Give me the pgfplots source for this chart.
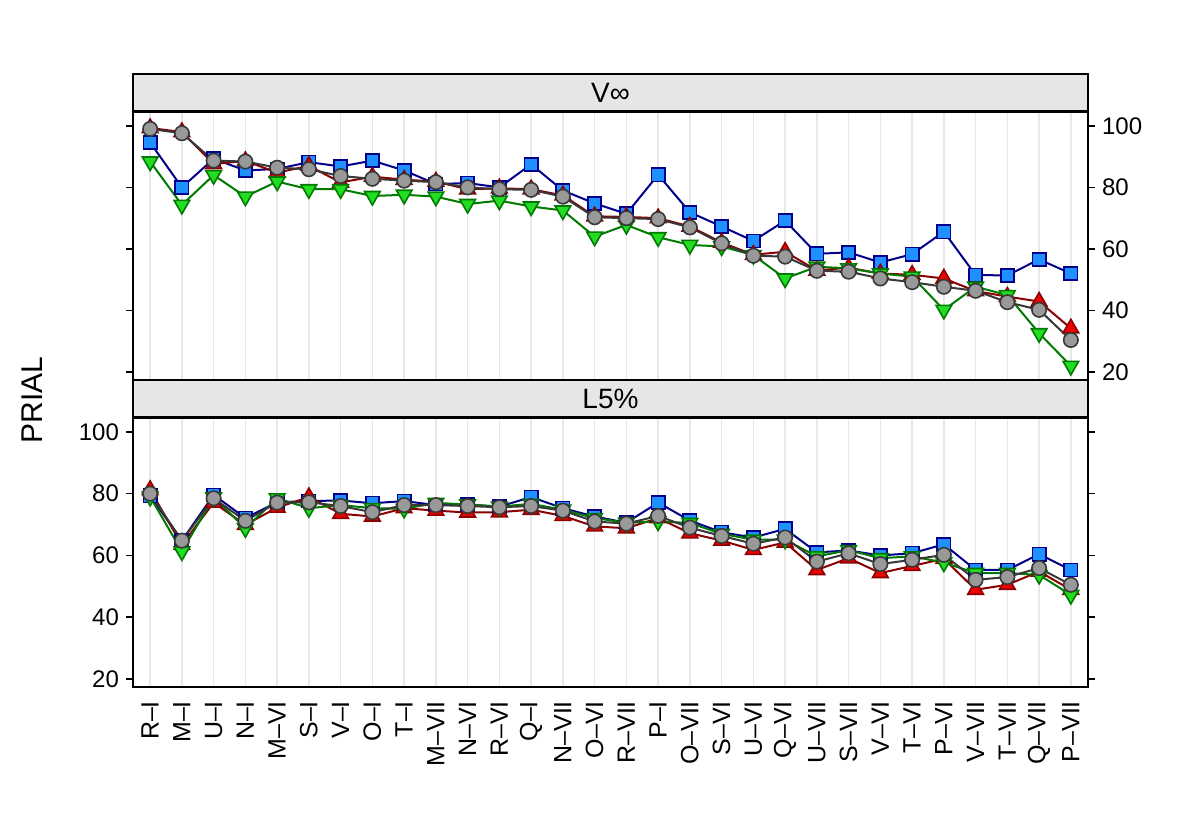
\documentclass[border=0pt]{standalone}
\usepackage{fontspec}
\setmainfont{Liberation Sans}
\usepackage{pgfplots}
\usepackage{pgfplotstable}
\pgfplotsset{compat=1.18}

\definecolor{bline}{HTML}{00008B}
\definecolor{bfill}{HTML}{1E90FF}
\definecolor{rline}{HTML}{8B0000}
\definecolor{rfill}{HTML}{EE0000}
\definecolor{gline}{HTML}{007A00}
\definecolor{gfill}{HTML}{22DD22}
\definecolor{kline}{HTML}{383838}
\definecolor{kfill}{HTML}{999999}
\definecolor{stripgray}{HTML}{E6E6E6}

\pgfplotstableread{
x b r g k
0 94.6 99.3 88.4 99.0
1 80.0 98.0 74.3 97.6
2 89.3 87.6 84.0 88.7
3 85.5 88.6 77.0 88.4
4 86.0 84.8 81.9 86.4
5 88.2 87.0 79.4 85.9
6 86.8 81.6 79.4 83.7
7 88.7 83.5 77.2 82.8
8 85.5 82.5 77.6 82.2
9 81.1 81.9 77.0 81.7
10 81.4 79.4 74.6 80.0
11 80.0 79.7 75.7 79.4
12 87.5 79.4 73.8 79.2
13 79.0 77.4 72.5 77.0
14 74.8 70.6 64.0 70.3
15 71.4 70.4 67.8 70.0
16 84.1 70.0 63.8 69.7
17 71.9 67.3 61.3 67.0
18 67.3 62.1 60.8 61.8
19 62.6 58.1 58.0 57.8
20 69.2 59.1 50.4 57.5
21 58.4 53.0 54.2 52.9
22 58.9 53.9 53.7 52.6
23 55.6 52.0 52.0 50.4
24 58.3 51.6 51.0 49.2
25 65.6 50.4 40.2 47.7
26 51.5 46.3 47.7 46.4
27 51.4 44.5 45.0 42.7
28 56.6 42.9 32.6 40.2
29 52.0 34.2 22.0 30.4
}\toptable

\pgfplotstableread{
x b r g k
0 79.3 81.2 79.0 80.0
1 64.8 63.4 61.3 64.8
2 79.6 77.1 78.8 78.5
3 72.1 69.9 68.8 71.2
4 77.2 75.5 78.5 77.1
5 77.6 78.9 75.3 77.2
6 77.8 73.5 76.3 76.0
7 76.9 72.6 75.3 74.0
8 77.6 75.3 75.1 76.3
9 76.3 74.5 77.0 76.3
10 76.5 73.9 76.5 76.0
11 75.8 74.0 75.8 75.6
12 78.9 74.8 76.7 76.0
13 75.3 72.8 74.8 74.5
14 72.6 69.4 72.1 71.0
15 70.6 68.8 70.6 70.3
16 77.1 72.1 71.0 72.8
17 71.3 67.2 70.5 69.0
18 67.5 64.8 67.0 66.3
19 65.8 61.8 65.1 63.8
20 68.6 64.2 65.1 65.8
21 61.0 55.3 59.7 58.0
22 61.6 59.1 61.7 60.7
23 60.0 54.3 59.1 57.2
24 60.7 56.6 59.7 58.6
25 63.6 58.9 57.7 60.2
26 55.3 48.9 54.3 52.1
27 55.3 50.5 54.3 53.0
28 60.4 54.8 53.7 55.9
29 55.3 48.9 47.2 50.5
}\bottable

\pgfplotsset{
  every axis title shift=0pt,
  common/.style={
    scale only axis,
    width=477.5pt,
    xmin=-0.54, xmax=29.54,
    ymin=17.4, ymax=104.5,
    ytick={20,40,60,80,100},
    xtick={0,...,29},
    xmajorgrids,
    major grid style={draw=gray!18, line width=0.8pt},
    tick align=outside,
    major tick length=3.5pt,
    axis line style={line width=0.8pt},
    x tick style={draw=none},
    y tick style={black, line width=0.8pt},
    ytick pos=both,
    tick label style={font=\fontsize{12}{14}\selectfont},
    /pgf/number format/assume math mode=true,
    title style={at={(0.5,1)}, anchor=south, draw=black, line width=0.8pt,
      fill=stripgray, minimum width=477.5pt, minimum height=18.5pt,
      inner sep=0pt, font=\fontsize{14}{16}\selectfont},
  },
  sb/.style={color=bline, line width=1pt, mark=square*, mark size=3.3pt,
    mark options={draw=bline, fill=bfill, line width=0.8pt}},
  sr/.style={color=rline, line width=1pt, mark=triangle*, mark size=4.5pt,
    mark options={draw=rline, fill=rfill, line width=0.8pt}},
  sg/.style={color=gline, line width=1pt, mark=triangle*, mark size=4.5pt,
    mark options={draw=gline, fill=gfill, line width=0.8pt, rotate=180}},
  sk/.style={color=kline, line width=1pt, mark=*, mark size=3.6pt,
    mark options={draw=kline, fill=kfill, line width=0.8pt}},
}

\begin{document}
\begin{tikzpicture}
\useasboundingbox (-66.5pt,-225.5pt) rectangle (533.5pt,190pt);
\begin{axis}[common, at={(0,0)}, anchor=south west, height=134pt,
  title={V∞}, yticklabel pos=right, ytick pos=both, xticklabels={}]
\addplot[sb] table[x=x,y=b] {\toptable};
\addplot[sr] table[x=x,y=r] {\toptable};
\addplot[sg] table[x=x,y=g] {\toptable};
\addplot[sk] table[x=x,y=k] {\toptable};
\end{axis}
\begin{axis}[common, at={(0,-19pt)}, anchor=north west, height=134.5pt,
  title={L5\%}, yticklabel pos=left, ytick pos=both,
  xticklabels={R–I,M–I,U–I,N–I,M–VI,S–I,V–I,O–I,T–I,M–VII,N–VI,R–VI,Q–I,N–VII,O–VI,R–VII,P–I,O–VII,S–VI,U–VI,Q–VI,U–VII,S–VII,V–VI,T–VI,P–VI,V–VII,T–VII,Q–VII,P–VII},
  x tick label style={rotate=90, anchor=east, font=\fontsize{12.5}{14}\selectfont}]
\addplot[sb] table[x=x,y=b] {\bottable};
\addplot[sr] table[x=x,y=r] {\bottable};
\addplot[sg] table[x=x,y=g] {\bottable};
\addplot[sk] table[x=x,y=k] {\bottable};
\end{axis}
\node[rotate=90, font=\fontsize{15}{18}\selectfont] at (-50.5pt,-10pt) {PRIAL};
\end{tikzpicture}
\end{document}
